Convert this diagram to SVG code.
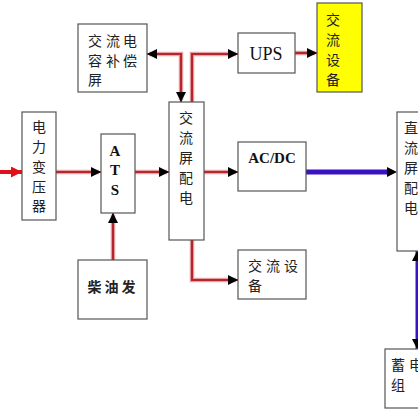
<svg xmlns="http://www.w3.org/2000/svg" width="418" height="420" viewBox="0 0 418 420">
<defs>
<style>
.box{fill:#fff;stroke:#555;stroke-width:1.2}
.cn{font-family:"Noto Sans CJK SC","Noto Sans CJK TC",sans-serif;font-size:14px;fill:#222}
.lat{font-family:"Liberation Serif",serif;fill:#111}
.red{fill:none;stroke:#e9a3a6;stroke-width:4.5}
.redc{fill:none;stroke:#b3262c;stroke-width:2.2}
.blue{fill:none;stroke:#3a12c4;stroke-width:5}
</style>
<marker id="ah" viewBox="0 0 10 10" refX="10" refY="5" markerWidth="10" markerHeight="10" markerUnits="userSpaceOnUse" orient="auto-start-reverse"><path d="M0,0 L10,5 L0,10 z" fill="#000"/></marker>
<marker id="ahr" viewBox="0 0 10 10" refX="10" refY="5" markerWidth="11" markerHeight="11" markerUnits="userSpaceOnUse" orient="auto"><path d="M0,0 L10,5 L0,10 z" fill="#e0101a"/></marker>
</defs>
<rect width="418" height="420" fill="#fff"/>
<g id="connectors">
<path d="M0,172 H22" fill="none" stroke="#e0101a" stroke-width="4" marker-end="url(#ahr)"/>
<path class="red" d="M56,172 H99"/><path class="redc" d="M56,172 H101" marker-end="url(#ah)"/>
<path class="red" d="M135,172 H167"/><path class="redc" d="M135,172 H169" marker-end="url(#ah)"/>
<path class="red" d="M113,260 V215"/><path class="redc" d="M113,260 V213" marker-end="url(#ah)"/>
<path class="red" d="M149,54 H181 V100"/><path class="redc" d="M147,54 H181 V102" marker-start="url(#ah)" marker-end="url(#ah)"/>
<path class="red" d="M192,102 V54 H236"/><path class="redc" d="M192,102 V54 H238" marker-end="url(#ah)"/>
<path class="red" d="M295,53 H315"/><path class="redc" d="M295,53 H317" marker-end="url(#ah)"/>
<path class="red" d="M204,172 H236"/><path class="redc" d="M204,172 H238" marker-end="url(#ah)"/>
<path class="red" d="M192,240 V280 H236"/><path class="redc" d="M192,240 V280 H238" marker-end="url(#ah)"/>
<path class="blue" d="M306,172 H389"/><path d="M387,172 H397" stroke="none" marker-end="url(#ah)"/>
<path d="M417,251 V349" fill="none" stroke="#3a12c4" stroke-width="3" marker-start="url(#ah)" marker-end="url(#ah)"/>
</g>
<g id="capacitor">
<rect class="box" x="78" y="24" width="69" height="68"/>
<text class="cn" x="88" y="46">交</text><text class="cn" x="106" y="46">流</text><text class="cn" x="123" y="46">电</text>
<text class="cn" x="88" y="66">容</text><text class="cn" x="106" y="66">补</text><text class="cn" x="123" y="66">偿</text>
<text class="cn" x="88" y="85">屏</text>
</g>
<g id="transformer">
<rect class="box" x="22" y="112" width="34" height="108"/>
<text class="cn" x="32" y="132">电</text><text class="cn" x="32" y="152">力</text><text class="cn" x="32" y="172">变</text><text class="cn" x="32" y="192">压</text><text class="cn" x="32" y="211">器</text>
</g>
<g id="ats">
<rect class="box" x="101" y="134" width="34" height="79"/>
<text class="lat" x="115" y="156" font-size="15" font-weight="bold" text-anchor="middle">A</text>
<text class="lat" x="115" y="175" font-size="15" font-weight="bold" text-anchor="middle">T</text>
<text class="lat" x="115" y="195" font-size="15" font-weight="bold" text-anchor="middle">S</text>
</g>
<g id="diesel">
<rect class="box" x="78" y="260" width="69" height="59"/>
<text class="cn" x="113" y="292" text-anchor="middle" font-weight="bold" letter-spacing="3">柴油发</text>
</g>
<g id="acpanel">
<rect class="box" x="169" y="102" width="35" height="138"/>
<text class="cn" x="179" y="123">交</text><text class="cn" x="179" y="143">流</text><text class="cn" x="179" y="163">屏</text><text class="cn" x="179" y="183">配</text><text class="cn" x="179" y="203">电</text>
</g>
<g id="ups">
<rect class="box" x="238" y="33" width="57" height="40"/>
<text class="lat" x="266" y="60" font-size="18" text-anchor="middle">UPS</text>
</g>
<g id="acdevice1">
<rect x="317" y="3" width="45" height="89" fill="#ffff00" stroke="#555" stroke-width="1.2"/>
<text class="cn" x="326" y="25">交</text><text class="cn" x="326" y="45">流</text><text class="cn" x="326" y="65">设</text><text class="cn" x="326" y="85">备</text>
</g>
<g id="acdc">
<rect class="box" x="238" y="142" width="68" height="49"/>
<text class="lat" x="272" y="163" font-size="15" font-weight="bold" text-anchor="middle">AC/DC</text>
</g>
<g id="acdevice2">
<rect class="box" x="238" y="250" width="68" height="49"/>
<text class="cn" x="248" y="271">交</text><text class="cn" x="266" y="271">流</text><text class="cn" x="284" y="271">设</text>
<text class="cn" x="248" y="291">备</text>
</g>
<g id="dcpanel">
<rect class="box" x="397" y="112" width="40" height="139"/>
<text class="cn" x="404" y="133">直</text><text class="cn" x="404" y="153">流</text><text class="cn" x="404" y="173">屏</text><text class="cn" x="404" y="193">配</text><text class="cn" x="404" y="213">电</text>
</g>
<g id="battery">
<rect class="box" x="385" y="349" width="60" height="59"/>
<text class="cn" x="391" y="370">蓄</text><text class="cn" x="409" y="370">电</text>
<text class="cn" x="391" y="390">组</text>
</g>
</svg>
